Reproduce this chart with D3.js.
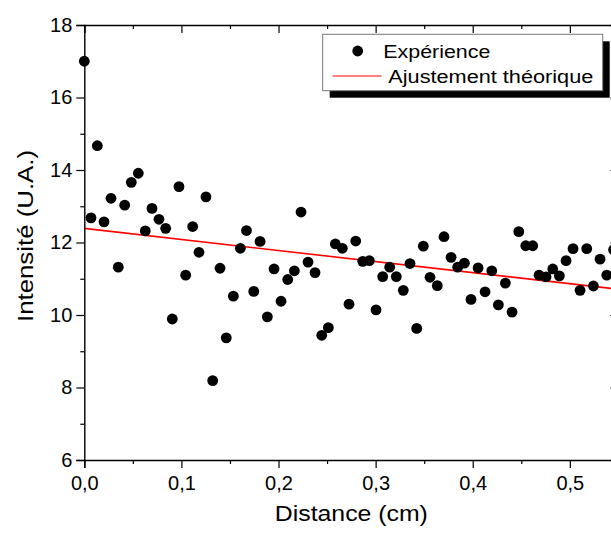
<!DOCTYPE html>
<html>
<head>
<meta charset="utf-8">
<script src="https://cdn.jsdelivr.net/npm/d3@7"></script>
<style>
  html, body { margin: 0; padding: 0; background: #fff; overflow: hidden; }
  svg { display: block; font-family: Arial, "Liberation Sans", sans-serif; }
</style>
</head>
<body>
<svg id="chart" width="611" height="534"></svg>
<script>
// ---- data ----
const distance = [0.0000, 0.0069, 0.0134, 0.0203, 0.0275, 0.0350, 0.0416, 0.0484, 0.0556, 0.0628,
  0.0697, 0.0769, 0.0838, 0.0906, 0.0975, 0.1044, 0.1116, 0.1181, 0.1253, 0.1322,
  0.1398, 0.1462, 0.1535, 0.1607, 0.1670, 0.1745, 0.1810, 0.1885, 0.1954, 0.2026,
  0.2095, 0.2163, 0.2232, 0.2304, 0.2376, 0.2445, 0.2513, 0.2585, 0.2657, 0.2726,
  0.2795, 0.2867, 0.2935, 0.3004, 0.3073, 0.3145, 0.3213, 0.3285, 0.3354, 0.3423,
  0.3491, 0.3560, 0.3635, 0.3704, 0.3777, 0.3845, 0.3914, 0.3982, 0.4055, 0.4127,
  0.4196, 0.4264, 0.4336, 0.4405, 0.4474, 0.4546, 0.4618, 0.4683, 0.4755, 0.4824,
  0.4892, 0.4961, 0.5033, 0.5105, 0.5174, 0.5243, 0.5311, 0.5380, 0.5450];
const intensite = [17.00, 12.68, 14.67, 12.57, 13.22, 11.32, 13.03, 13.66, 13.91, 12.32,
  12.94, 12.64, 12.39, 9.89, 13.54, 11.10, 12.44, 11.73, 13.26, 8.19,
  11.29, 9.37, 10.52, 11.84, 12.33, 10.65, 12.03, 9.95, 11.27, 10.38,
  10.98, 11.22, 12.84, 11.46, 11.17, 9.44, 9.65, 11.96, 11.84, 10.30,
  12.04, 11.48, 11.50, 10.14, 11.06, 11.32, 11.06, 10.68, 11.42, 9.63,
  11.90, 11.04, 10.81, 12.16, 11.59, 11.32, 11.43, 10.43, 11.30, 10.64,
  11.22, 10.28, 10.88, 10.08, 12.30, 11.91, 11.91, 11.10, 11.05, 11.27,
  11.08, 11.50, 11.83, 10.68, 11.83, 10.80, 11.54, 11.10, 11.80];
const fitX = [0.0, 0.55];
const fitY = [12.39, 10.71];
const xMajorTicks = [0, 0.1, 0.2, 0.3, 0.4, 0.5];
const xMinorTicks = [0.05, 0.15, 0.25, 0.35, 0.45, 0.55];
const yMajorTicks = [6, 8, 10, 12, 14, 16, 18];
const yMinorTicks = [7, 9, 11, 13, 15, 17];
const legendLabels = ["Expérience", "Ajustement théorique"];
const xTitle = "Distance (cm)";
const yTitle = "Intensité (U.A.)";

// ---- layout ----
const L = 84.3, R = 618.4, T = 25, B = 460;
const svg = d3.select("#chart");
const x = d3.scaleLinear().domain([0, 0.55]).range([L, R]);
const y = d3.scaleLinear().domain([6, 18]).range([B, T]);
const fmt = d => d3.format(".1f")(d).replace(".", ",");

function styleAxis(g) {
  g.selectAll("path.domain").attr("stroke", "#000").attr("stroke-width", 1.4);
  g.selectAll(".tick line").attr("stroke", "#000").attr("stroke-width", 1.2);
  g.selectAll("text").attr("fill", "#000").attr("font-size", 20)
    .attr("font-family", "Arial, 'Liberation Sans', sans-serif");
}

// fit line
svg.append("path")
  .datum(fitX.map((d, i) => [d, fitY[i]]))
  .attr("fill", "none").attr("stroke", "#ff0000").attr("stroke-width", 1.6)
  .attr("d", d3.line().x(d => x(d[0])).y(d => y(d[1])));

// points
svg.append("g").selectAll("circle")
  .data(distance.map((d, i) => [d, intensite[i]]))
  .join("circle")
  .attr("cx", d => x(d[0])).attr("cy", d => y(d[1])).attr("r", 5.4).attr("fill", "#000");

// bottom axis
const gb = svg.append("g").attr("transform", `translate(0,${B})`);
gb.call(d3.axisBottom(x).tickValues(xMajorTicks).tickSize(8).tickPadding(8).tickFormat(fmt));
styleAxis(gb);
const gbm = svg.append("g").attr("transform", `translate(0,${B})`);
gbm.call(d3.axisBottom(x).tickValues(xMinorTicks).tickSize(4).tickFormat(""));
styleAxis(gbm); gbm.select("path.domain").remove();

// top axis (inward ticks)
const gt = svg.append("g").attr("transform", `translate(0,${T})`);
gt.call(d3.axisTop(x).tickValues(xMajorTicks).tickSize(-8).tickFormat(""));
styleAxis(gt);
const gtm = svg.append("g").attr("transform", `translate(0,${T})`);
gtm.call(d3.axisTop(x).tickValues(xMinorTicks).tickSize(-4).tickFormat(""));
styleAxis(gtm); gtm.select("path.domain").remove();

// left axis
const gl = svg.append("g").attr("transform", `translate(${L},0)`);
gl.call(d3.axisLeft(y).tickValues(yMajorTicks).tickSize(8).tickPadding(4).tickFormat(d3.format("d")));
styleAxis(gl);
const glm = svg.append("g").attr("transform", `translate(${L},0)`);
glm.call(d3.axisLeft(y).tickValues(yMinorTicks).tickSize(4).tickFormat(""));
styleAxis(glm); glm.select("path.domain").remove();

// right axis (inward ticks)
const gr = svg.append("g").attr("transform", `translate(${R},0)`);
gr.call(d3.axisRight(y).tickValues(yMajorTicks).tickSize(-8).tickFormat(""));
styleAxis(gr);
const grm = svg.append("g").attr("transform", `translate(${R},0)`);
grm.call(d3.axisRight(y).tickValues(yMinorTicks).tickSize(-4).tickFormat(""));
styleAxis(grm); grm.select("path.domain").remove();

// axis titles
svg.append("text").text(xTitle)
  .attr("x", (L + R) / 2).attr("y", 521).attr("text-anchor", "middle")
  .attr("font-size", 22).attr("fill", "#000")
  .attr("textLength", 153).attr("lengthAdjust", "spacingAndGlyphs");
svg.append("text").text(yTitle)
  .attr("transform", `translate(33,236) rotate(-90)`)
  .attr("text-anchor", "middle")
  .attr("font-size", 22).attr("fill", "#000")
  .attr("textLength", 172).attr("lengthAdjust", "spacingAndGlyphs");

// legend
const lg = svg.append("g");
lg.append("rect").attr("x", 329.7).attr("y", 41.3).attr("width", 280).attr("height", 56.4).attr("fill", "#000");
lg.append("rect").attr("x", 322.7).attr("y", 34.3).attr("width", 280).attr("height", 56.4)
  .attr("fill", "#fff").attr("stroke", "#777").attr("stroke-width", 1);
lg.append("circle").attr("cx", 357.7).attr("cy", 51).attr("r", 5.4).attr("fill", "#000");
lg.append("text").text(legendLabels[0]).attr("x", 383.3).attr("y", 57.7)
  .attr("font-size", 18).attr("fill", "#000")
  .attr("textLength", 107).attr("lengthAdjust", "spacingAndGlyphs");
lg.append("line").attr("x1", 332.7).attr("x2", 381.7).attr("y1", 76).attr("y2", 76)
  .attr("stroke", "#ff0000").attr("stroke-width", 1.2);
lg.append("text").text(legendLabels[1]).attr("x", 388.3).attr("y", 83.3)
  .attr("font-size", 18).attr("fill", "#000")
  .attr("textLength", 205).attr("lengthAdjust", "spacingAndGlyphs");
</script>
</body>
</html>
